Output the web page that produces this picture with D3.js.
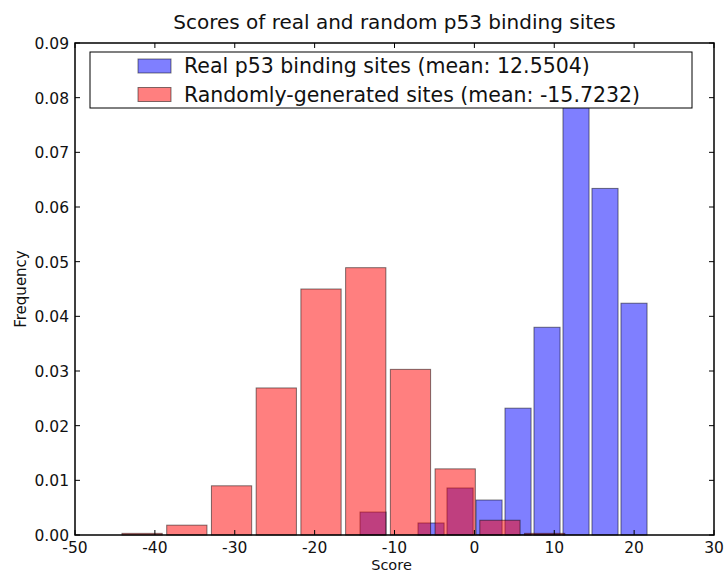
<!DOCTYPE html>
<html>
<head>
<meta charset="utf-8">
<script src="https://cdn.jsdelivr.net/npm/d3@7"></script>
<style>
  html, body { margin: 0; padding: 0; background: #fff; }
  svg { display: block; font-family: "DejaVu Sans", sans-serif; }
</style>
</head>
<body>
<svg id="chart" width="725" height="572"></svg>
<script>
// Histogram bin edges and normalised frequencies for each set of sites
const realEdges = [-14.5, -10.87, -7.24, -3.61, 0.02, 3.65, 7.28, 10.91, 14.54, 18.17, 21.8];
const realFreq = [0.0042, 0, 0.0022, 0.0086, 0.0064, 0.0232, 0.0380, 0.0871, 0.0634, 0.0424];
const randomEdges = [-44.4, -38.8, -33.2, -27.6, -22.0, -16.4, -10.8, -5.2, 0.4, 6.0, 11.6];
const randomFreq = [0.0003, 0.0018, 0.0090, 0.0269, 0.0450, 0.0489, 0.0303, 0.0121, 0.0027, 0.0003];

const xTicks = [-50, -40, -30, -20, -10, 0, 10, 20, 30];
const yTicks = [0, 0.01, 0.02, 0.03, 0.04, 0.05, 0.06, 0.07, 0.08, 0.09];

const seriesNames = ["Real p53 binding sites (mean: 12.5504)", "Randomly-generated sites (mean: -15.7232)"];
const seriesColors = ["#0000ff", "#ff0000"];
const rwidth = 0.9;

const svg = d3.select("#chart");
const margin = { left: 75, right: 11, top: 43, bottom: 37 };
const W = 725, H = 572;
const x0 = margin.left, x1 = W - margin.right, y0 = H - margin.bottom, y1 = margin.top;

const x = d3.scaleLinear().domain([-50, 30]).range([x0, x1]);
const y = d3.scaleLinear().domain([0, 0.09]).range([y0, y1]);

function drawHist(edges, freq, color) {
  const bins = freq.map((f, i) => ({ a: edges[i], b: edges[i + 1], f }));
  svg.append("g").selectAll("rect").data(bins).join("rect")
    .attr("x", d => { const w = d.b - d.a; return x(d.a + w * (1 - rwidth) / 2); })
    .attr("width", d => { const w = d.b - d.a; return x(d.a + w * rwidth) - x(d.a); })
    .attr("y", d => y(d.f))
    .attr("height", d => y(0) - y(d.f))
    .attr("fill", color).attr("fill-opacity", 0.5)
    .attr("stroke", "#000").attr("stroke-opacity", 0.5).attr("stroke-width", 1);
}

drawHist(realEdges, realFreq, seriesColors[0]);
drawHist(randomEdges, randomFreq, seriesColors[1]);

// Ticks pointing inwards on all four sides
const tickLen = 5;
const tg = svg.append("g").attr("stroke", "#000").attr("stroke-width", 1);
xTicks.forEach(t => {
  tg.append("line").attr("x1", x(t)).attr("x2", x(t)).attr("y1", y0).attr("y2", y0 - tickLen);
  tg.append("line").attr("x1", x(t)).attr("x2", x(t)).attr("y1", y1).attr("y2", y1 + tickLen);
});
yTicks.forEach(t => {
  tg.append("line").attr("y1", y(t)).attr("y2", y(t)).attr("x1", x0).attr("x2", x0 + tickLen);
  tg.append("line").attr("y1", y(t)).attr("y2", y(t)).attr("x1", x1).attr("x2", x1 - tickLen);
});

// Tick labels
svg.append("g").selectAll("text").data(xTicks).join("text")
  .attr("x", d => x(d)).attr("y", y0 + 18)
  .attr("text-anchor", "middle").attr("font-size", 15.5).attr("fill", "#111")
  .text(d => d);
svg.append("g").selectAll("text").data(yTicks).join("text")
  .attr("x", x0 - 6).attr("y", d => y(d) + 6)
  .attr("text-anchor", "end").attr("font-size", 15.5).attr("fill", "#111")
  .text(d => d3.format(".2f")(d));

// Frame
svg.append("rect").attr("x", x0).attr("y", y1).attr("width", x1 - x0).attr("height", y0 - y1)
  .attr("fill", "none").attr("stroke", "#000").attr("stroke-width", 1.5);

// Title and axis labels
svg.append("text").attr("x", (x0 + x1) / 2).attr("y", 29).attr("text-anchor", "middle")
  .attr("font-size", 20).attr("fill", "#111").text("Scores of real and random p53 binding sites");
svg.append("text").attr("x", (x0 + x1) / 2 - 3).attr("y", 569.5).attr("text-anchor", "middle")
  .attr("font-size", 14.5).attr("fill", "#111").text("Score");
svg.append("text").attr("transform", `translate(26,${(y0 + y1) / 2}) rotate(-90)`)
  .attr("text-anchor", "middle").attr("font-size", 15).attr("fill", "#111").text("Frequency");

// Legend
const lg = svg.append("g");
lg.append("rect").attr("x", 90).attr("y", 52).attr("width", 602).attr("height", 56)
  .attr("fill", "#fff").attr("stroke", "#000").attr("stroke-width", 1);
seriesNames.forEach((name, i) => {
  const cy = 66 + i * 28.5;
  lg.append("rect").attr("x", 138).attr("y", cy - 7).attr("width", 33).attr("height", 14)
    .attr("fill", seriesColors[i]).attr("fill-opacity", 0.5)
    .attr("stroke", "#000").attr("stroke-opacity", 0.5);
  lg.append("text").attr("x", 184).attr("y", cy + 7).attr("font-size", 20.5).attr("fill", "#111").text(name);
});
</script>
</body>
</html>
